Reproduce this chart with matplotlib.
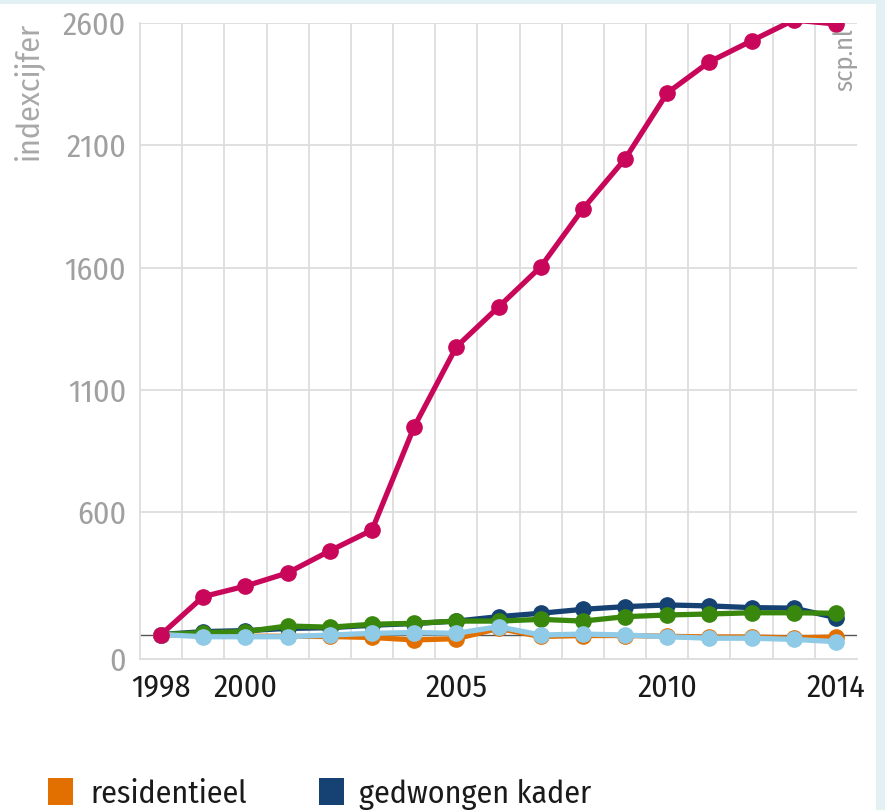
import numpy as np
import matplotlib
matplotlib.use("Agg")
import matplotlib.pyplot as plt
from matplotlib.patches import Rectangle

plt.rcParams['font.family'] = ['Fira Sans Condensed', 'Sofia Sans Semi Condensed', 'DejaVu Sans']

# index (1998 = 100)
years = list(range(1998, 2015))
residentieel = [100, 95, 93, 93, 92, 88, 78, 83, 125, 92, 96, 96, 93, 90, 90, 86, 90]
gedwongen_kader = [100, 112, 116, 125, 128, 138, 145, 155, 173, 187, 203, 214, 221, 217, 210, 208, 169]
reeks_groen = [100, 108, 112, 135, 130, 142, 146, 155, 155, 162, 155, 173, 180, 184, 189, 189, 187]
reeks_lichtblauw = [100, 91, 91, 91, 98, 105, 108, 105, 132, 98, 102, 98, 91, 85, 85, 80, 71]
reeks_roze = [100, 255, 298, 352, 442, 527, 949, 1276, 1439, 1603, 1840, 2044, 2314, 2441, 2527, 2612, 2596]

yticks = [0, 600, 1100, 1600, 2100, 2600]
xtick_labels = [1998, 2000, 2005, 2010, 2014]

series = [
    (residentieel, "#e17000"),
    (gedwongen_kader, "#154273"),
    (reeks_groen, "#39870c"),
    (reeks_lichtblauw, "#8fcae7"),
    (reeks_roze, "#c8075a"),
]
legend_items = [("residentieel", "#e17000"), ("gedwongen kader", "#154273")]

fig = plt.figure(figsize=(8.85, 8.1), dpi=100)
fig.patch.set_facecolor("white")

# light cyan frame at top and right
fig.patches.append(Rectangle((0, 1 - 4 / 810), 1, 4 / 810, transform=fig.transFigure,
                             facecolor="#e3f1f4", edgecolor="none", zorder=0))
fig.patches.append(Rectangle((876 / 885, 0), 9 / 885, 1, transform=fig.transFigure,
                             facecolor="#e3f1f4", edgecolor="none", zorder=0))

ax = fig.add_axes([140 / 885, 1 - 659 / 810, 717 / 885, 636 / 810])

ax.axhline(100, color="#555555", linewidth=1, zorder=1)

for vals, col in series:
    ax.plot(years, vals, color=col, linewidth=3.8, marker="o", markersize=11,
            solid_capstyle="round", zorder=3)

ax.set_xlim(1997.5, 2014.5)
ax.set_ylim(0, 2600)
ax.set_yticks(yticks)
ax.set_yticklabels([str(t) for t in yticks], color="#a0a0a0", fontsize=23)
ax.set_xticks(xtick_labels)
ax.set_xticklabels([str(t) for t in xtick_labels], color="#1a1a1a", fontsize=23)
ax.set_xticks(np.arange(1998.5, 2014, 1), minor=True)
ax.tick_params(axis="both", which="both", length=0)
ax.tick_params(axis="x", pad=10)
ax.tick_params(axis="y", pad=10)

ax.grid(False)
ax.xaxis.grid(True, which="minor", color="#dddddd", linewidth=1.3)
ax.yaxis.grid(True, which="major", color="#dddddd", linewidth=1.3)
ax.set_axisbelow(True)

for side in ["top", "right"]:
    ax.spines[side].set_visible(False)
for side in ["left", "bottom"]:
    ax.spines[side].set_color("#dddddd")
    ax.spines[side].set_linewidth(1.3)

fig.text(28 / 885, 1 - 22 / 810, "indexcijfer", rotation=90, ha="center", va="top",
         color="#a8a8a8", fontsize=23)
fig.text(845 / 885, 1 - 28 / 810, "scp.nl", rotation=90, ha="center", va="top",
         color="#a0a0a0", fontsize=19)

# legend (only the two visible entries)
for (label, col), x0, xt in zip(legend_items, [48, 319], [90, 359]):
    fig.patches.append(Rectangle((x0 / 885, 1 - 805 / 810), 25 / 885, 27 / 810,
                                 transform=fig.transFigure, facecolor=col, edgecolor="none"))
    fig.text(xt / 885, 1 - 803 / 810, label, ha="left", va="baseline",
             color="#1a1a1a", fontsize=23)

fig.savefig("out.png", dpi=100, facecolor="white")
